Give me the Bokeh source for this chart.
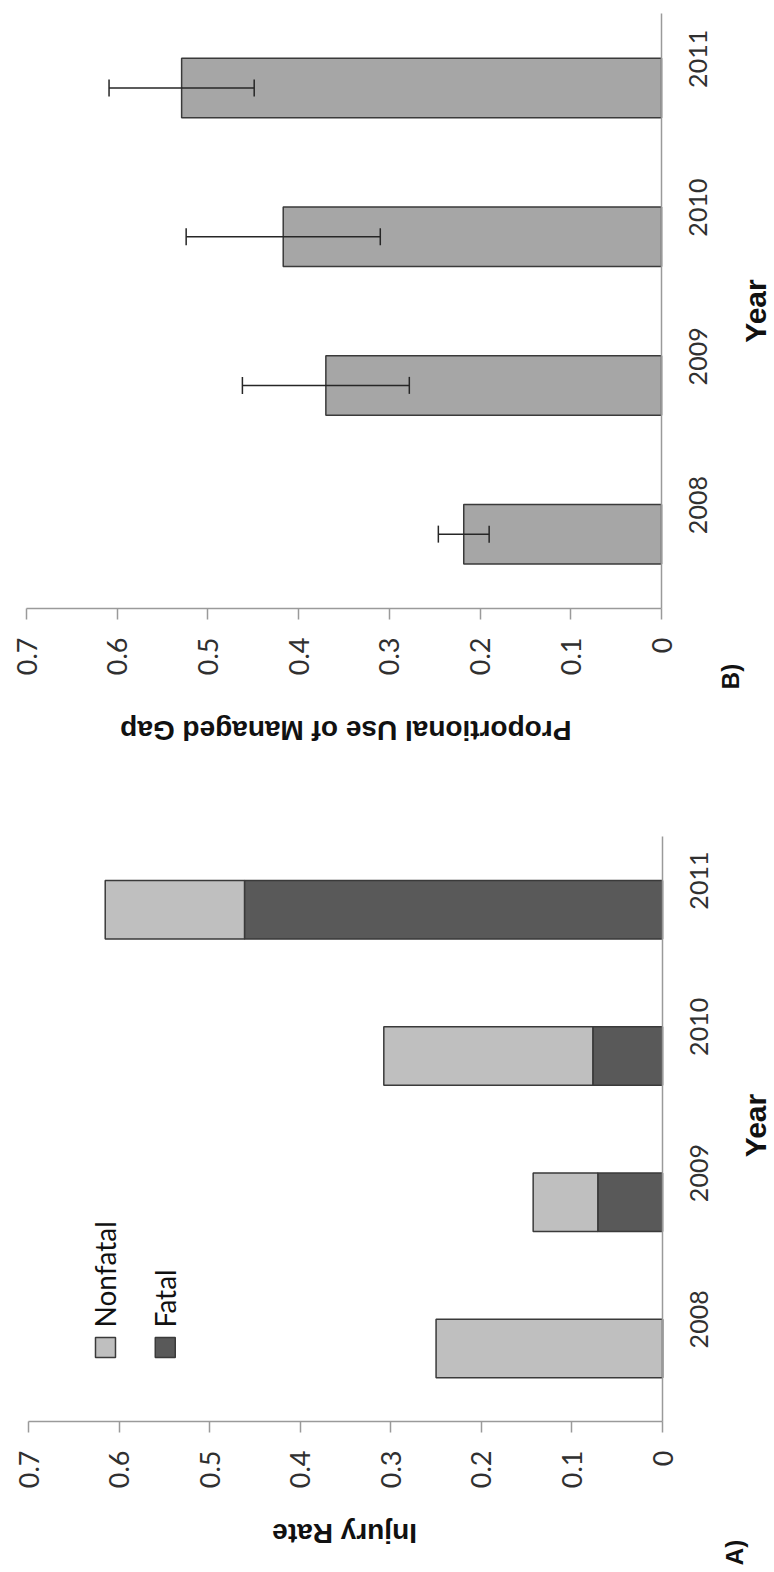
import math

from bokeh.embed import file_html
from bokeh.layouts import column
from bokeh.models import ColumnDataSource, FixedTicker, Label, Range1d, TeeHead, Whisker
from bokeh.plotting import figure
from bokeh.resources import INLINE

# ---- data -------------------------------------------------------------
years = ["2008", "2009", "2010", "2011"]

# A) injury rate, split into fatal and nonfatal parts
fatal_rate = [0.0, 0.0714, 0.0769, 0.4615]
nonfatal_rate = [0.25, 0.0714, 0.2308, 0.1538]

# B) proportional use of the managed gap, with error half-widths
gap_use = [0.218, 0.370, 0.417, 0.529]
gap_err = [0.028, 0.092, 0.107, 0.080]

value_ticks = [0, 0.1, 0.2, 0.3, 0.4, 0.5, 0.6, 0.7]

# category slots: one unit per year, bars centred in each slot
year_pos = [i + 0.5 for i in range(len(years))]

TICK_FONT = "Lato"
TITLE_FONT = "Liberation Sans"
AXIS_GREY = "#9a9a9a"
EDGE = "#3a3a3a"
WIDTH = 774


def base_figure(height, zero_px, top_px, bottom_px, slot_px):
    """Figure whose frame is the whole canvas.

    zero_px / top_px: horizontal pixel of value 0 and of value 0.7,
    bottom_px: vertical pixel of the category axis start, slot_px: height of one year slot.
    """
    px_per_unit = (zero_px - top_px) / 0.7
    x_range = Range1d(zero_px / px_per_unit, (zero_px - WIDTH) / px_per_unit)
    y_range = Range1d((bottom_px - height) / slot_px, bottom_px / slot_px)

    p = figure(
        width=WIDTH, height=height,
        x_range=x_range, y_range=y_range,
        x_axis_location="below", y_axis_location="right",
        output_backend="svg", toolbar_location=None,
        min_border=0, min_border_left=0, min_border_right=0,
        min_border_top=0, min_border_bottom=0,
    )
    p.outline_line_color = None
    p.xgrid.grid_line_color = None
    p.ygrid.grid_line_color = None

    xa = p.xaxis[0]
    xa.fixed_location = 0
    xa.bounds = (0, 0.7)
    xa.ticker = FixedTicker(ticks=value_ticks)
    xa.major_label_overrides = {0: "0"}
    xa.minor_tick_line_color = None
    xa.major_tick_out = 11
    xa.major_tick_in = 0
    xa.axis_line_color = AXIS_GREY
    xa.major_tick_line_color = AXIS_GREY
    xa.axis_line_width = 1.5
    xa.major_tick_line_width = 1.5
    xa.major_label_orientation = math.pi / 2
    xa.major_label_standoff = 18
    xa.major_label_text_font = TICK_FONT
    xa.major_label_text_font_size = "27px"
    xa.major_label_text_color = "#303030"

    ya = p.yaxis[0]
    ya.fixed_location = 0
    ya.bounds = (0, len(years))
    ya.ticker = FixedTicker(ticks=year_pos)
    ya.major_label_overrides = dict(zip(year_pos, years))
    ya.major_tick_line_color = None
    ya.minor_tick_line_color = None
    ya.axis_line_color = AXIS_GREY
    ya.axis_line_width = 1.5
    ya.major_label_orientation = math.pi / 2
    ya.major_label_standoff = 30
    ya.major_label_text_font = TICK_FONT
    ya.major_label_text_font_size = "25px"
    ya.major_label_text_color = "#303030"
    return p


def add_text(p, text, x, y, angle, size, bold=True, align="center", baseline="middle", font=TITLE_FONT):
    p.add_layout(Label(
        x=x, y=y, text=text, angle=angle,
        text_font=font, text_font_size=size,
        text_font_style="bold" if bold else "normal",
        text_align=align, text_baseline=baseline, text_color="#111111",
    ))


# ---- B) proportional use of managed gap (upper panel) ----------------
pb = base_figure(760, zero_px=661, top_px=26, bottom_px=608, slot_px=148.75)

src_b = ColumnDataSource(dict(
    pos=year_pos,
    use=gap_use,
    lo=[u - e for u, e in zip(gap_use, gap_err)],
    hi=[u + e for u, e in zip(gap_use, gap_err)],
))
pb.hbar(y="pos", left=0, right="use", height=0.4, source=src_b,
        fill_color="#a6a6a6", line_color=EDGE, line_width=1.5)
pb.add_layout(Whisker(
    source=src_b, base="pos", lower="lo", upper="hi", dimension="width",
    line_color="#262626", line_width=1.5, level="annotation",
    lower_head=TeeHead(size=17, line_color="#262626", line_width=1.5),
    upper_head=TeeHead(size=17, line_color="#262626", line_width=1.5),
))

add_text(pb, "Year", -0.1036, 2.0, math.pi / 2, "30px")
add_text(pb, "Proportional Use of Managed Gap", 0.348, -0.82, math.pi, "28px")
add_text(pb, "B)", -0.076, -0.457, math.pi / 2, "24px")

# ---- A) injury rate (lower panel) ------------------------------------
pa = base_figure(812, zero_px=662, top_px=28, bottom_px=661, slot_px=146.25)

src_a = ColumnDataSource(dict(pos=year_pos, fatal=fatal_rate, nonfatal=nonfatal_rate))
pa.hbar_stack(["fatal", "nonfatal"], y="pos", height=0.4, source=src_a,
              fill_color=["#595959", "#bfbfbf"], line_color=EDGE, line_width=1.5)

# legend: swatches and names written along the rotated orientation
legend_names = ["Nonfatal", "Fatal"]
legend_colors = ["#bfbfbf", "#595959"]
legend_x = [0.615, 0.549]
pa.scatter(x=legend_x, y=[0.506, 0.506], marker="square", size=20,
           fill_color=legend_colors, line_color=EDGE, line_width=1.5)
for name, lx in zip(legend_names, legend_x):
    add_text(pa, name, lx, 0.643, math.pi / 2, "28px", bold=False,
             align="left", font=TICK_FONT)

add_text(pa, "Year", -0.1027, 2.024, math.pi / 2, "30px")
add_text(pa, "Injury Rate", 0.351, -0.766, math.pi, "28px")
add_text(pa, "A)", -0.0795, -0.896, math.pi / 2, "24px")

layout = column(pb, pa, spacing=0)
open("out.html", "w").write(file_html(layout, INLINE))
